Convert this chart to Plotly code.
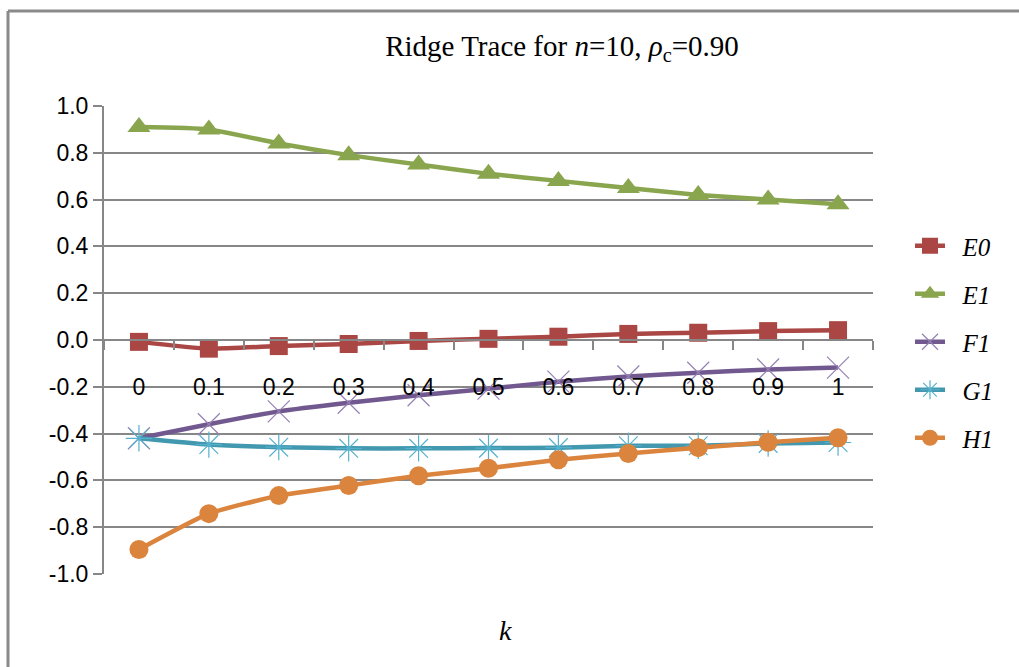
import plotly.graph_objects as go

k_labels = ["0", "0.1", "0.2", "0.3", "0.4", "0.5", "0.6", "0.7", "0.8", "0.9", "1"]
E0 = [-0.008, -0.037, -0.026, -0.017, -0.004, 0.005, 0.014, 0.026, 0.031, 0.038, 0.042]
E1 = [0.91, 0.90, 0.84, 0.79, 0.75, 0.71, 0.68, 0.65, 0.62, 0.60, 0.58]
F1 = [-0.42, -0.36, -0.305, -0.268, -0.236, -0.208, -0.178, -0.156, -0.140, -0.126, -0.118]
G1 = [-0.42, -0.447, -0.458, -0.463, -0.463, -0.462, -0.460, -0.452, -0.452, -0.442, -0.438]
H1 = [-0.895, -0.742, -0.665, -0.622, -0.58, -0.548, -0.512, -0.485, -0.460, -0.437, -0.418]
y_ticks = [1.0, 0.8, 0.6, 0.4, 0.2, 0.0, -0.2, -0.4, -0.6, -0.8, -1.0]

series = [
    ("E0", E0, "#AA4643", dict(symbol="square", size=18, color="#AA4643")),
    ("E1", E1, "#89A54E", dict(symbol="triangle-up", size=20, color="#89A54E")),
    ("F1", F1, "#71588F", dict(symbol="x-thin-open", size=22, color="#9580B3", line=dict(width=1.2, color="#9580B3"))),
    ("G1", G1, "#4198AF", dict(symbol="asterisk-open", size=22, color="#55B0CC", line=dict(width=1.2, color="#55B0CC"))),
    ("H1", H1, "#DB843D", dict(symbol="circle", size=19, color="#DB843D")),
]

L, R, T, B = 104, 146, 106, 93
W, H = 1019, 667
pw, ph = W - L - R, H - T - B

fig = go.Figure()
for name, vals, col, mk in series:
    fig.add_trace(go.Scatter(
        x=k_labels, y=vals, name="\u00a0\u00a0<i>" + name + "</i>", mode="lines+markers",
        line=dict(color=col, width=4.5, shape="spline", smoothing=0.5),
        marker=mk, legendgroup=name,
    ))

grid_col = "#878787"
serif = "Liberation Serif"
fig.update_layout(
    width=W, height=H,
    margin=dict(l=L, r=R, t=T, b=B),
    paper_bgcolor="white", plot_bgcolor="white",
    title=dict(
        text=("Ridge Trace for <i>n</i>=10, <i>ρ</i><sub>c</sub>"
              "<span style='font-family:Liberation Serif'>=0.90</span>"),
        x=562 / W, xref="container", xanchor="center",
        y=1 - 46 / H, yref="container", yanchor="middle",
        font=dict(family=serif, size=29, color="black"),
    ),
    xaxis=dict(
        type="category", range=[-0.5, 10.5],
        anchor="free", position=0.5,
        showline=True, linecolor=grid_col, linewidth=2,
        showgrid=False, zeroline=False,
        ticks="outside", tickson="boundaries", ticklen=9, tickcolor=grid_col, tickwidth=2,
        ticklabelstandoff=26,
        tickfont=dict(family="Liberation Sans", size=23, color="black"),
    ),
    yaxis=dict(
        range=[-1, 1], tickvals=y_ticks, ticktext=[f"{v:.1f}" for v in y_ticks],
        showline=True, linecolor=grid_col, linewidth=2,
        showgrid=True, gridcolor=grid_col, gridwidth=1.5, zeroline=False,
        ticks="outside", ticklen=9, tickcolor=grid_col, tickwidth=1.5,
        tickfont=dict(family="Liberation Sans", size=23, color="black"),
    ),
    legend=dict(
        x=(910 - L) / pw, xanchor="left",
        y=1 - (223 - T) / ph, yanchor="top",
        font=dict(family=serif, size=25, color="black"),
        tracegroupgap=12.5, bgcolor="rgba(0,0,0,0)",
    ),
    showlegend=True,
    annotations=[dict(
        text="<i>k</i>", xref="paper", yref="paper",
        x=(505 - L) / pw, y=(H - B - 630) / ph, xanchor="center", yanchor="middle",
        showarrow=False, font=dict(family=serif, size=28, color="black"),
    )],
    shapes=[
        dict(type="line", xref="paper", yref="paper",
             x0=(8 - L) / pw, x1=(8 - L) / pw, y0=1 + (T - 11) / ph, y1=-0.5,
             line=dict(color="#8A8A8A", width=3)),
        dict(type="line", xref="paper", yref="paper",
             x0=(8 - L) / pw, x1=1.5, y0=1 + (T - 11) / ph, y1=1 + (T - 11) / ph,
             line=dict(color="#8A8A8A", width=3)),
    ],
)

fig.write_html("out.html")
